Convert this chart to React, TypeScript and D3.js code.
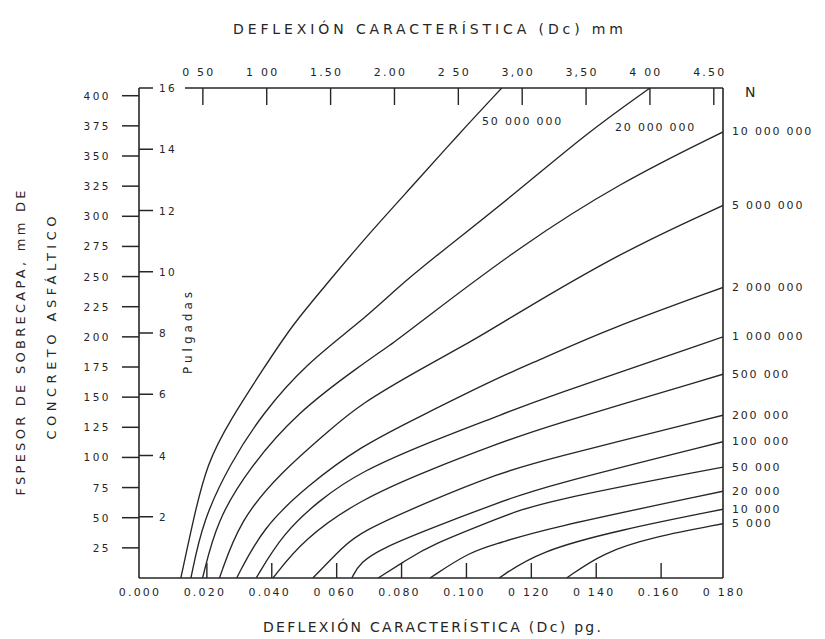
import * as d3 from 'd3';
import React from 'react';

// Curvas N: [deflexión característica Dc (pg), espesor de sobrecapa (mm)]
const n50M = [[0.0129, 0], [0.0167, 48], [0.0209, 95], [0.0281, 131], [0.0382, 173], [0.0475, 211], [0.0589, 247], [0.069, 280], [0.0866, 332], [0.0978, 366], [0.1118, 406.4]];
const n20M = [[0.016, 0], [0.0197, 48], [0.0281, 95], [0.0382, 137], [0.0517, 178], [0.0681, 212], [0.0794, 240], [0.0882, 260], [0.1174, 322], [0.138, 369], [0.1575, 406.4]];
const n10M = [[0.0196, 0], [0.024, 48], [0.0342, 92], [0.0486, 137], [0.0681, 176], [0.0795, 197], [0.0866, 212], [0.1174, 275], [0.1483, 328], [0.18, 370]];
const n5M = [[0.0248, 0], [0.0311, 48], [0.0435, 87], [0.0589, 123], [0.0681, 144], [0.0866, 173], [0.103, 197], [0.1133, 214], [0.1483, 270], [0.18, 309]];
const n2M = [[0.0301, 0], [0.0382, 42], [0.0517, 76], [0.0681, 109], [0.0866, 134], [0.1113, 167], [0.1236, 181], [0.1442, 206], [0.18, 241]];
const n1M = [[0.0361, 0], [0.0444, 37], [0.0558, 65], [0.0681, 88], [0.0897, 113], [0.1113, 135], [0.1236, 148], [0.18, 200]];
const n500k = [[0.0413, 0], [0.0506, 32], [0.0681, 65], [0.0897, 90], [0.1113, 112], [0.1236, 124], [0.18, 169]];
const n200k = [[0.0536, 0], [0.0629, 26], [0.0681, 38], [0.0897, 64], [0.1113, 87], [0.1236, 97], [0.18, 135]];
const n100k = [[0.0656, 0], [0.0681, 13], [0.0752, 25], [0.0897, 41], [0.1113, 63], [0.1236, 75], [0.18, 113]];
const n50k = [[0.0737, 0], [0.0825, 15], [0.0897, 27], [0.1113, 50], [0.1236, 63], [0.18, 92]];
const n20k = [[0.0897, 0], [0.102, 22], [0.1113, 29], [0.1236, 40], [0.18, 72]];
const n10k = [[0.111, 0], [0.123, 22], [0.1483, 40], [0.18, 57]];
const n5k = [[0.1318, 0], [0.143, 21], [0.1584, 34], [0.18, 45]];

const nLabels = ['50 000 000', '20 000 000', '10 000 000', '5 000 000', '2 000 000', '1 000 000', '500 000', '200 000', '100 000', '50 000', '20 000', '10 000', '5 000'];
const nCurves = [n50M, n20M, n10M, n5M, n2M, n1M, n500k, n200k, n100k, n50k, n20k, n10k, n5k];

// Ejes
const mmTicks = [25, 50, 75, 100, 125, 150, 175, 200, 225, 250, 275, 300, 325, 350, 375, 400];
const inchTicks = [2, 4, 6, 8, 10, 12, 14, 16];
const pgTicks = [0, 0.02, 0.04, 0.06, 0.08, 0.1, 0.12, 0.14, 0.16, 0.18];
const pgLabels = ['0.000', '0.020', '0.040', '0 060', '0.080', '0.100', '0 120', '0 140', '0.160', '0 180'];
const dcMmTicks = [0.5, 1, 1.5, 2, 2.5, 3, 3.5, 4, 4.5];
const dcMmLabels = ['0 50', '1 00', '1.50', '2.00', '2 50', '3,00', '3,50', '4 00', '4.50'];

export default function App() {
  const width = 825;
  const height = 639;
  const ink = '#262626';
  const font = "'DejaVu Sans', sans-serif";

  const x = d3.scaleLinear().domain([0, 0.18]).range([139, 723]);
  const y = d3.scaleLinear().domain([0, 406.4]).range([578, 88]);
  // trazo suave (las lecturas del ábaco tienen algo de ruido)
  const line = d3
    .line<number[]>()
    .x((d) => x(d[0]))
    .y((d) => y(d[1]))
    .curve(d3.curveBasis);

  const x0 = x(0);
  const x1 = x(0.18);
  const yTop = y(406.4);
  const yBot = y(0);
  const tickText = { fontFamily: font, fontSize: 11, fill: ink, letterSpacing: 2.2 };

  return (
    <svg width={width} height={height} style={{ position: 'absolute', left: 0, top: 0, background: '#fff' }}>
      <defs>
        <clipPath id="plot">
          <rect x={x0} y={yTop} width={x1 - x0} height={yBot - yTop} />
        </clipPath>
      </defs>

      {/* Títulos */}
      <text x={428} y={34} textAnchor="middle" textLength={390} lengthAdjust="spacing"
        style={{ fontFamily: font, fontSize: 14, fill: ink }}>
        DEFLEXIÓN CARACTERÍSTICA (Dc) mm
      </text>
      <text x={432} y={632} textAnchor="middle" textLength={338} lengthAdjust="spacing"
        style={{ fontFamily: font, fontSize: 14, fill: ink }}>
        DEFLEXIÓN CARACTERÍSTICA (Dc) pg.
      </text>
      <text transform="translate(20,343) rotate(-90)" textAnchor="middle" dominantBaseline="central"
        textLength={305} lengthAdjust="spacing" style={{ fontFamily: font, fontSize: 13, fill: ink }}>
        FSPESOR DE SOBRECAPA, mm DE
      </text>
      <text transform="translate(51,328) rotate(-90)" textAnchor="middle" dominantBaseline="central"
        textLength={223} lengthAdjust="spacing" style={{ fontFamily: font, fontSize: 13, fill: ink }}>
        CONCRETO ASFÁLTICO
      </text>
      <text transform="translate(188,333) rotate(-90)" textAnchor="middle" dominantBaseline="central"
        textLength={82} lengthAdjust="spacing" style={{ fontFamily: font, fontSize: 12, fill: ink }}>
        Pulgadas
      </text>

      {/* Marco */}
      <g stroke={ink} strokeWidth={1.6} fill="none">
        <line x1={x0} y1={yTop} x2={x0} y2={yBot} />
        <line x1={x0} y1={yBot} x2={x1} y2={yBot} />
        <line x1={x1} y1={yTop} x2={x1} y2={yBot} />
        <line x1={185} y1={yTop} x2={x1} y2={yTop} />
      </g>

      {/* Eje izquierdo mm */}
      {mmTicks.map((t) => (
        <g key={'mm' + t}>
          <line x1={x0 - 17} x2={x0} y1={y(t)} y2={y(t)} stroke={ink} strokeWidth={1.5} />
          <text x={111} y={y(t)} textAnchor="end" dominantBaseline="central" style={{ ...tickText, fontSize: 10.5, letterSpacing: 2.5 }}>
            {t}
          </text>
        </g>
      ))}

      {/* Eje izquierdo pulgadas */}
      {inchTicks.map((t) => (
        <g key={'in' + t}>
          <line x1={x0} x2={x0 + 14} y1={y(t * 25.4)} y2={y(t * 25.4)} stroke={ink} strokeWidth={1.5} />
          <text x={159} y={y(t * 25.4)} dominantBaseline="central" style={{ ...tickText, fontSize: 10.5 }}>
            {t}
          </text>
        </g>
      ))}

      {/* Eje inferior pg */}
      {pgTicks.map((t, i) => (
        <g key={'pg' + t}>
          {i > 0 && i < pgTicks.length - 1 && (
            <line x1={x(t) + 3} x2={x(t) + 3} y1={yBot} y2={yBot - 15} stroke={ink} strokeWidth={1.4} />
          )}
          <text x={x(t) + 1} y={592} textAnchor="middle" dominantBaseline="central" style={tickText}>
            {pgLabels[i]}
          </text>
        </g>
      ))}

      {/* Eje superior mm */}
      {dcMmTicks.map((t, i) => (
        <g key={'dc' + t}>
          <line x1={x(t / 25.4)} x2={x(t / 25.4)} y1={yTop} y2={yTop + 17} stroke={ink} strokeWidth={1.4} />
          <text x={x(t / 25.4) - 4} y={72} textAnchor="middle" dominantBaseline="central" style={tickText}>
            {dcMmLabels[i]}
          </text>
        </g>
      ))}

      {/* Curvas N */}
      <g clipPath="url(#plot)">
        {nCurves.map((c, i) => (
          <path key={nLabels[i]} d={line(c) ?? ''} fill="none" stroke={ink} strokeWidth={1.35} />
        ))}
      </g>

      {/* Etiquetas N */}
      <text x={745} y={92} dominantBaseline="central" style={{ fontFamily: font, fontSize: 14, fill: ink }}>N</text>
      <text x={482} y={121} dominantBaseline="central" style={{ ...tickText, letterSpacing: 1.8 }}>{nLabels[0]}</text>
      <text x={615} y={127} dominantBaseline="central" style={{ ...tickText, letterSpacing: 1.8 }}>{nLabels[1]}</text>
      {nCurves.slice(2).map((c, i) => (
        <text key={'lab' + i} x={732} y={y(c[c.length - 1][1])} dominantBaseline="central"
          style={{ ...tickText, letterSpacing: 1.8 }}>
          {nLabels[i + 2]}
        </text>
      ))}
    </svg>
  );
}
